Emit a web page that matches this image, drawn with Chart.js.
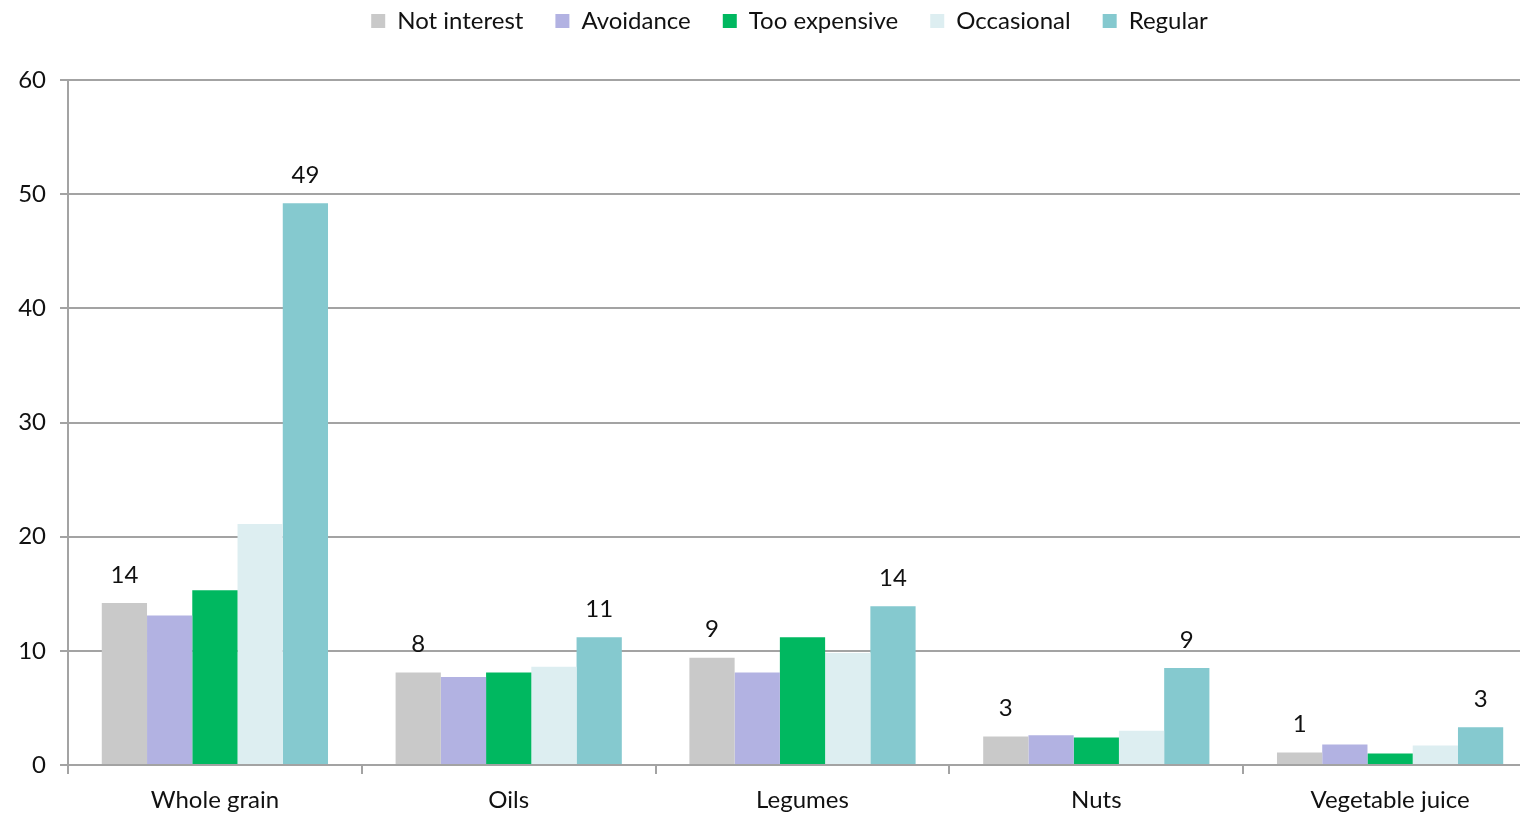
<!DOCTYPE html>
<html>
<head>
<meta charset="utf-8">
<script src="https://cdn.jsdelivr.net/npm/chart.js@4"></script>
<style>
  html, body { margin: 0; padding: 0; background: #ffffff; overflow: hidden; }
  #wrap { width: 1520px; height: 815px; overflow: hidden; position: relative; }
  #c { position: absolute; left: 0; top: 0; }
</style>
</head>
<body>
<div id="wrap"><canvas id="c" width="1580" height="815"></canvas></div>
<script>
// Food categories on the x axis
const categories = ['Whole grain', 'Oils', 'Legumes', 'Nuts', 'Vegetable juice'];

// Share of respondents per attitude (%)
const notInterest  = [14.2, 8.1, 9.4, 2.5, 1.1];
const avoidance    = [13.1, 7.7, 8.1, 2.6, 1.8];
const tooExpensive = [15.3, 8.1, 11.2, 2.4, 1.0];
const occasional   = [21.1, 8.6, 9.8, 3.0, 1.7];
const regular      = [49.2, 11.2, 13.9, 8.5, 3.3];

// Y axis ticks
const yTicks = [0, 10, 20, 30, 40, 50, 60];

const FONT = 'Lato, "Open Sans", sans-serif';
const FONT_SIZE = 24;
const GRID = '#a3a3a3';
const INK = '#111111';

// Value labels above the "Not interest" and "Regular" bars
const barValueLabels = {
  id: 'barValueLabels',
  afterDatasetsDraw(chart) {
    const ctx = chart.ctx;
    ctx.save();
    ctx.font = FONT_SIZE + 'px ' + FONT;
    ctx.fillStyle = INK;
    ctx.textAlign = 'center';
    ctx.textBaseline = 'middle';
    [0, 4].forEach(di => {
      const meta = chart.getDatasetMeta(di);
      const data = chart.data.datasets[di].data;
      meta.data.forEach((bar, i) => {
        ctx.fillText(String(Math.round(data[i])), bar.x, bar.y - 28);
      });
    });
    ctx.restore();
  }
};

// Fixed legend band at the top; the row sits near the top edge
const legendBand = {
  id: 'legendBand',
  beforeUpdate(chart) {
    const lg = chart.legend;
    if (lg && !lg._bandPatched) {
      const fit = lg.fit;
      lg.fit = function () { fit.call(this); this.height = 80; };
      const draw = lg.draw;
      lg.draw = function () {
        const ctx = this.ctx;
        ctx.save();
        ctx.translate(21, -23);
        draw.call(this);
        ctx.restore();
      };
      lg._bandPatched = true;
    }
  }
};

new Chart(document.getElementById('c'), {
  type: 'bar',
  data: {
    labels: categories,
    datasets: [
      { label: 'Not interest',  data: notInterest,  backgroundColor: '#c9c9c9' },
      { label: 'Avoidance',     data: avoidance,    backgroundColor: '#b2b2e2' },
      { label: 'Too expensive', data: tooExpensive, backgroundColor: '#00b860' },
      { label: 'Occasional',    data: occasional,   backgroundColor: '#ddeef1' },
      { label: 'Regular',       data: regular,      backgroundColor: '#85c9cf' }
    ]
  },
  options: {
    responsive: false,
    animation: false,
    devicePixelRatio: 1,
    layout: { padding: { left: 0, right: 43, top: 0, bottom: 0 } },
    datasets: {
      bar: { categoryPercentage: 0.77, barPercentage: 1.0, borderWidth: 0 }
    },
    plugins: {
      legend: {
        position: 'top',
        labels: {
          font: { family: FONT, size: FONT_SIZE },
          color: INK,
          boxWidth: 14,
          boxHeight: 14,
          padding: 32
        }
      },
      tooltip: { enabled: false }
    },
    scales: {
      x: {
        grid: {
          drawOnChartArea: false,
          drawTicks: true,
          tickLength: 9,
          color: GRID,
          lineWidth: 2,
          offset: true
        },
        border: { display: true, color: GRID, width: 2 },
        ticks: {
          font: { family: FONT, size: FONT_SIZE },
          color: INK,
          padding: 12,
          maxRotation: 0
        },
        afterFit(scale) { scale.height = 50; }
      },
      y: {
        min: 0,
        max: 60,
        afterBuildTicks(scale) { scale.ticks = yTicks.map(v => ({ value: v })); },
        grid: {
          color: GRID,
          lineWidth: 2,
          tickLength: 8
        },
        border: { display: true, color: GRID, width: 2 },
        ticks: {
          font: { family: FONT, size: FONT_SIZE },
          color: INK,
          padding: 14
        },
        afterFit(scale) { scale.width = 68; }
      }
    }
  },
  plugins: [legendBand, barValueLabels]
});
</script>
</body>
</html>
